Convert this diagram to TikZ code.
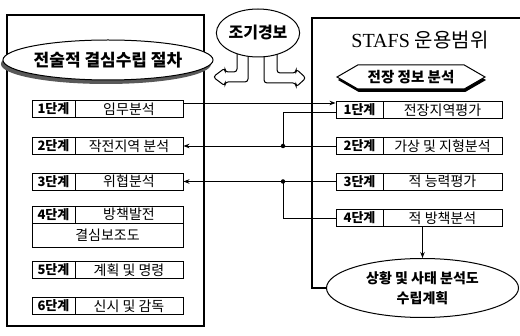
\documentclass[tikz,border=0pt]{standalone}
\usepackage{fontspec}
\setmainfont{Liberation Serif}
\newfontfamily\kr{Noto Sans CJK KR}
\usetikzlibrary{shapes.geometric,shapes.symbols,shadows,arrows.meta}
\begin{document}
\begin{tikzpicture}[x=1pt,y=-1pt,
  frame/.style={line width=1.3pt},
  lab/.style={draw, line width=0.9pt, minimum height=17pt, inner sep=0pt, font=\kr\bfseries\fontsize{13}{13}\selectfont},
  txt/.style={draw, line width=0.9pt, minimum height=17pt, inner sep=0pt, font=\kr\fontsize{14}{14}\selectfont},
  con/.style={line width=0.9pt},
  arr/.style={con, -{Stealth[length=6pt,width=4.5pt]}},
  dot/.style={circle, fill, inner sep=0pt, minimum size=4.5pt},
  harrow/.style={line width=1pt, fill=white, rounded corners=3pt},
]
\useasboundingbox (0,0) rectangle (520,336);

% left frame
\draw[frame] (7,15) rectangle (204,326);
\node[ellipse, draw, line width=1pt, fill=white, minimum width=174pt, minimum height=40pt, inner sep=0pt,
  general shadow={fill=black!65, shadow yshift=-4pt, shadow xshift=-2pt},
  font=\kr\bfseries\fontsize{17}{17}\selectfont] (LT) at (108,60) {전술적 결심수립 절차};

% left steps
\node[lab, minimum width=43pt] (L1a) at (53.5,109) {1단계};
\node[txt, minimum width=108pt] (L1b) at (129,109) {임무분석};
\node[lab, minimum width=43pt] (L2a) at (53.5,146) {2단계};
\node[txt, minimum width=108pt] (L2b) at (129,146) {작전지역 분석};
\node[lab, minimum width=43pt] (L3a) at (53.5,181.5) {3단계};
\node[txt, minimum width=108pt] (L3b) at (129,181.5) {위협분석};
\node[lab, minimum width=43pt] (L4a) at (53.5,214.5) {4단계};
\node[txt, minimum width=108pt] (L4b) at (129,214.5) {방책발전};
\node[txt, minimum width=151pt, minimum height=24pt] (L4c) at (107.5,235) {결심보조도};
\node[lab, minimum width=43pt] (L5a) at (53.5,270) {5단계};
\node[txt, minimum width=108pt] (L5b) at (129,270) {계획 및 명령};
\node[lab, minimum width=43pt] (L6a) at (53.5,306) {6단계};
\node[txt, minimum width=108pt] (L6b) at (129,306) {신시 및 감독};

% early warning cloud
\draw[harrow] (237,45) -- (237,72) -- (225,72) -- (225,68) -- (213,77) -- (225,86) -- (225,82) -- (248,82) -- (248,45);
\draw[harrow] (277,45) -- (277,73) -- (296,73) -- (296,69) -- (306,78) -- (296,87) -- (296,83) -- (264,83) -- (264,45);
\node[ellipse, draw, line width=1pt, fill=white, minimum width=78pt, minimum height=48pt, inner sep=0pt,
  font=\kr\bfseries\fontsize{16}{16}\selectfont] (C) at (258,33) {조기경보};

% right side
\node[font=\fontsize{20}{20}\selectfont] (ST) at (420,40) {STAFS {\kr 운용범위}};
\node[signal, signal to=west and east, signal pointer angle=60, draw, line width=1pt, fill=white,
  minimum width=148pt, minimum height=24pt, inner sep=0pt,
  general shadow={fill=black, shadow xshift=1pt, shadow yshift=-3pt},
  font=\kr\bfseries\fontsize{14.5}{14.5}\selectfont] (H) at (411,77) {전장 정보 분석};

\node[lab, minimum width=47pt] (R1a) at (359.5,110) {1단계};
\node[txt, minimum width=119pt] (R1b) at (442.5,110) {전장지역평가};
\node[lab, minimum width=47pt] (R2a) at (359.5,146) {2단계};
\node[txt, minimum width=119pt] (R2b) at (442.5,146) {가상 및 지형분석};
\node[lab, minimum width=47pt] (R3a) at (359.5,181.5) {3단계};
\node[txt, minimum width=119pt] (R3b) at (442.5,181.5) {적 능력평가};
\node[lab, minimum width=47pt] (R4a) at (359.5,218) {4단계};
\node[txt, minimum width=119pt] (R4b) at (442.5,218) {적 방책분석};

\node[ellipse, draw, line width=1pt, minimum width=192pt, minimum height=59pt, inner sep=0pt, align=center,
  font=\kr\bfseries\fontsize{14}{20}\selectfont] (E) at (422.5,288) {상황 및 사태 분석도\\수립계획};

\draw[line width=1.6pt] (520,18) -- (312,18) |- (E.west);

% connectors
\coordinate (j2) at (283,146);
\coordinate (j3) at (283,181.5);
\coordinate (c1) at ([yshift=6pt]L1b.east);
\draw[arr] (c1) -- (c1 -| R1a.west);
\draw[con] ([yshift=-2pt]R1a.west) -| (j2);
\draw[arr] (R2a.west) -- (L2b.east);
\draw[arr] (R3a.west) -- (L3b.east);
\draw[con] (R4a.west) -| (j3);
\node[dot] (d2) at (j2) {};
\node[dot] (d3) at (j3) {};
\draw[arr] (E.north |- R4b.south) -- (E.north);
\end{tikzpicture}
\end{document}
